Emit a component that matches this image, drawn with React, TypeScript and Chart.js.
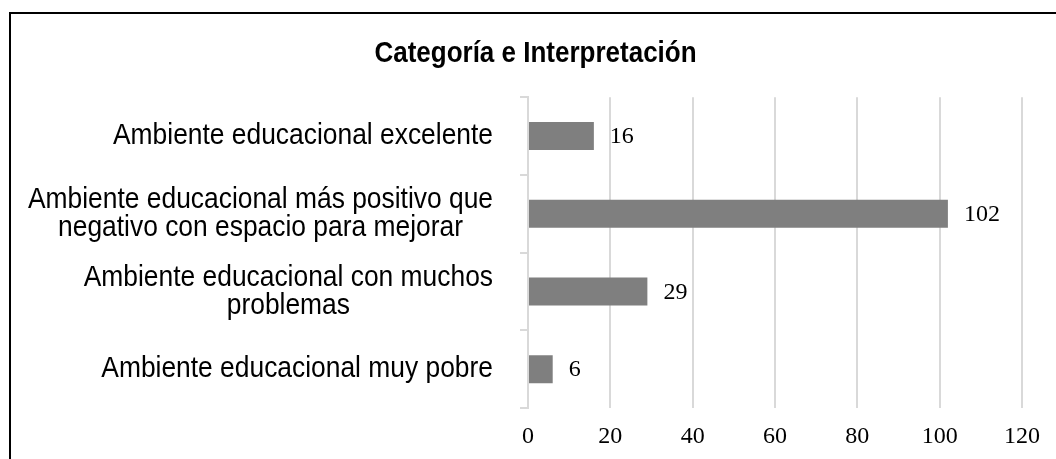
import React, { useEffect, useRef } from "react";
import { Chart, registerables } from "chart.js";

Chart.register(...registerables);

const chartTitle = "Categoría e Interpretación";
const categories: string[][] = [
  ["Ambiente educacional excelente"],
  ["Ambiente educacional más positivo que", "negativo con espacio para mejorar"],
  ["Ambiente educacional con muchos", "problemas"],
  ["Ambiente educacional muy pobre"],
];
const values: number[] = [16, 102, 29, 6];
const xTicks: number[] = [0, 20, 40, 60, 80, 100, 120];

const SANS = "'Liberation Sans', Arial, sans-serif";
const SERIF = "'Liberation Serif', 'Times New Roman', serif";
const GRID = "#d9d9d9";
const STRETCH = 1.13;

const textPlugin = {
  id: "customTexts",
  afterDraw(chart: any) {
    const ctx = chart.ctx as CanvasRenderingContext2D;
    const yScale = chart.scales.y;
    ctx.save();
    ctx.fillStyle = "#000000";
    ctx.textAlign = "center";
    ctx.textBaseline = "middle";
    // title
    const tb = chart.titleBlock;
    if (tb) {
      ctx.font = `bold 26px ${SANS}`;
      const tx = (tb.left + tb.right) / 2;
      const ty = tb.top + 23 + 15.6 + 3;
      ctx.save();
      ctx.translate(tx, ty);
      ctx.scale(1, STRETCH);
      ctx.fillText(chartTitle, 0, 0);
      ctx.restore();
    }
    // category labels
    ctx.font = `26.4px ${SANS}`;
    const right = chart.chartArea.left - 35;
    const lh = 28;
    (chart.data.labels as string[][]).forEach((lines, i) => {
      const cy = yScale.getPixelForTick(i);
      const w = Math.max(...lines.map((l) => ctx.measureText(l).width));
      const cx = right - w / 2;
      lines.forEach((line, j) => {
        ctx.save();
        ctx.translate(cx, cy + (j - (lines.length - 1) / 2) * lh);
        ctx.scale(1, STRETCH);
        ctx.fillText(line, 0, 0);
        ctx.restore();
      });
    });
    ctx.restore();
  },
};

const dataLabelPlugin = {
  id: "barValueLabels",
  afterDatasetsDraw(chart: any) {
    const ctx = chart.ctx as CanvasRenderingContext2D;
    const meta = chart.getDatasetMeta(0);
    const data = chart.data.datasets[0].data as number[];
    ctx.save();
    ctx.font = `24px ${SERIF}`;
    ctx.fillStyle = "#000000";
    ctx.textAlign = "left";
    ctx.textBaseline = "middle";
    meta.data.forEach((bar: any, i: number) => {
      ctx.fillText(String(data[i]), bar.x + 16, bar.y + 1);
    });
    ctx.restore();
  },
};

export default function App() {
  const canvasRef = useRef<HTMLCanvasElement | null>(null);

  useEffect(() => {
    document.body.style.margin = "0";
    const canvas = canvasRef.current;
    if (!canvas) return;
    const chart = new Chart(canvas, {
      type: "bar",
      data: {
        labels: categories as any,
        datasets: [
          {
            data: values,
            backgroundColor: "#7f7f7f",
            borderWidth: 0,
            barPercentage: 0.36,
            categoryPercentage: 1,
          },
        ],
      },
      options: {
        indexAxis: "y",
        responsive: false,
        animation: false,
        layout: { padding: { top: 12, left: 49, right: 34, bottom: 8 } },
        plugins: {
          legend: { display: false },
          tooltip: { enabled: false },
          title: {
            display: true,
            text: chartTitle,
            color: "rgba(0,0,0,0)",
            font: { family: SANS, size: 26, weight: "bold" },
            padding: { top: 23, bottom: 31 },
          },
        },
        scales: {
          x: {
            min: xTicks[0],
            max: xTicks[xTicks.length - 1],
            ticks: {
              stepSize: xTicks[1] - xTicks[0],
              color: "#000000",
              font: { family: SERIF, size: 24 },
              padding: 14,
              maxRotation: 0,
            },
            grid: { color: GRID, lineWidth: 2, drawTicks: false },
            border: { display: false },
            afterFit: (scale: any) => {
              scale.height = 43;
            },
          },
          y: {
            ticks: { display: false },
            grid: {
              offset: true,
              drawOnChartArea: false,
              drawTicks: true,
              tickLength: 8,
              color: GRID,
              lineWidth: 2,
            },
            border: { display: true, color: GRID, width: 2 },
            afterFit: (scale: any) => {
              scale.width = 528 - 49;
            },
          },
        },
      },
      plugins: [textPlugin, dataLabelPlugin],
    });
    return () => chart.destroy();
  }, []);

  return (
    <div
      style={{
        position: "fixed",
        left: 0,
        top: 0,
        width: 1056,
        height: 459,
        overflow: "hidden",
        background: "#ffffff",
      }}
    >
      <canvas
        ref={canvasRef}
        width={1056}
        height={459}
        style={{ position: "absolute", left: 0, top: 0, width: 1056, height: 459 }}
      />
      <div
        style={{
          position: "absolute",
          left: 9,
          top: 12,
          width: 2000,
          height: 2000,
          border: "2px solid #000000",
          pointerEvents: "none",
        }}
      />
    </div>
  );
}
